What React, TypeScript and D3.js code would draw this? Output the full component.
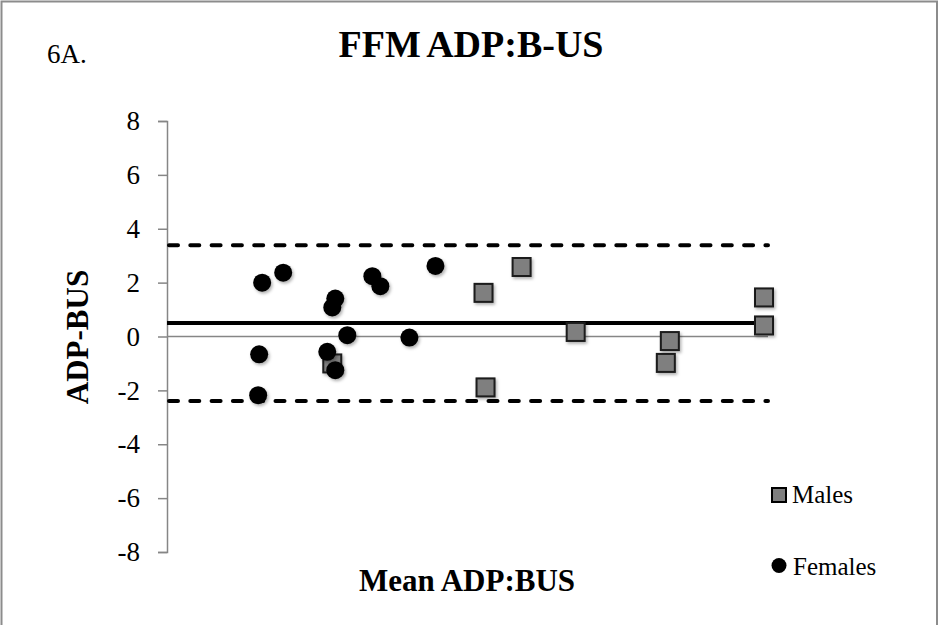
import React, { useEffect, useRef } from 'react';
import * as d3 from 'd3';

// Bland-Altman style plot, FFM ADP vs B-US
const femaleMean = [39.5, 41.6, 46.8, 46.5, 50.5, 51.3, 56.8, 48.0, 54.2, 39.2, 46.0, 46.8, 39.1];
const femaleDiff = [2.0, 2.37, 1.41, 1.08, 2.24, 1.87, 2.62, 0.05, -0.04, -0.66, -0.57, -1.25, -2.18];
const maleMean = [65.4, 61.6, 89.6, 89.6, 70.8, 80.2, 79.8, 61.8, 46.5];
const maleDiff = [2.58, 1.62, 1.45, 0.41, 0.17, -0.17, -0.98, -1.89, -1.0];
const meanBias = 0.5;
const upperLimit = 3.39;
const lowerLimit = -2.39;
const yTicks = [-8, -6, -4, -2, 0, 2, 4, 6, 8];

const W = 940;
const H = 625;
const serif = '"Liberation Serif", "Times New Roman", serif';

export default function App() {
    const ref = useRef<SVGSVGElement>(null);

    useEffect(() => {
        const svg = d3.select(ref.current);
        svg.selectAll('*').remove();

        const x = d3.scaleLinear().domain([30, 90]).range([167, 768]);
        const y = d3.scaleLinear().domain([-8, 8]).range([552, 121]);

        const defs = svg.append('defs');
        const f = defs.append('filter').attr('id', 'shadow').attr('x', '-50%').attr('y', '-50%').attr('width', '200%').attr('height', '200%');
        f.append('feDropShadow')
            .attr('dx', 1.5)
            .attr('dy', 2)
            .attr('stdDeviation', 1.8)
            .attr('flood-color', '#000')
            .attr('flood-opacity', 0.3);

        svg.append('rect').attr('width', W).attr('height', H).attr('fill', '#fff');
        // outer frame
        svg.append('rect')
            .attr('x', 1.5)
            .attr('y', 1.5)
            .attr('width', 935.5)
            .attr('height', 660)
            .attr('fill', 'none')
            .attr('stroke', '#8c8c8c')
            .attr('stroke-width', 2);

        // title
        svg.append('text')
            .attr('x', 471)
            .attr('y', 57)
            .attr('text-anchor', 'middle')
            .style('font-family', serif)
            .attr('font-weight', 'bold')
            .attr('font-size', 38)
            .attr('word-spacing', -2)
            .text('FFM ADP:B-US');
        svg.append('text')
            .attr('x', 47)
            .attr('y', 63)
            .style('font-family', serif)
            .attr('font-size', 27)
            .text('6A.');

        // y axis
        const yAxis = d3.axisLeft(y).tickValues(yTicks).tickSize(9).tickPadding(18).tickFormat(d3.format('d'));
        const gY = svg.append('g').attr('transform', 'translate(167,0)').call(yAxis);
        gY.select('.domain').attr('stroke', '#868686').attr('stroke-width', 1.5);
        gY.selectAll('.tick line').attr('stroke', '#868686').attr('stroke-width', 1.5);
        gY.selectAll('.tick text')
            .style('font-family', serif)
            .attr('font-size', 27)
            .attr('fill', '#000')
            .text((d: any) => (d < 0 ? '-' + Math.abs(d) : String(d)));

        // zero line (x axis)
        svg.append('line')
            .attr('x1', x(30))
            .attr('x2', x(90))
            .attr('y1', y(0))
            .attr('y2', y(0))
            .attr('stroke', '#868686')
            .attr('stroke-width', 1.5);

        // bias and limits
        svg.append('line')
            .attr('x1', x(30))
            .attr('x2', x(90))
            .attr('y1', y(meanBias))
            .attr('y2', y(meanBias))
            .attr('stroke', '#000')
            .attr('stroke-width', 4);
        [upperLimit, lowerLimit].forEach((v) => {
            svg.append('line')
                .attr('x1', x(30) + 2)
                .attr('x2', x(90))
                .attr('y1', y(v))
                .attr('y2', y(v))
                .attr('stroke', '#000')
                .attr('stroke-width', 4)
                .attr('stroke-linecap', 'round')
                .attr('stroke-dasharray', '9 12.3');
        });

        // males
        const sq = 18;
        svg.append('g')
            .selectAll('rect')
            .data(d3.range(maleMean.length))
            .enter()
            .append('rect')
            .attr('x', (i) => x(maleMean[i]) - sq / 2)
            .attr('y', (i) => y(maleDiff[i]) - sq / 2)
            .attr('width', sq)
            .attr('height', sq)
            .attr('fill', '#7f7f7f')
            .attr('stroke', '#1a1a1a')
            .attr('stroke-width', 2)
            .attr('filter', 'url(#shadow)');

        // females
        svg.append('g')
            .selectAll('circle')
            .data(d3.range(femaleMean.length))
            .enter()
            .append('circle')
            .attr('cx', (i) => x(femaleMean[i]))
            .attr('cy', (i) => y(femaleDiff[i]))
            .attr('r', 9)
            .attr('fill', '#000')
            .attr('filter', 'url(#shadow)');

        // axis titles
        svg.append('text')
            .attr('transform', 'translate(88,337) rotate(-90)')
            .attr('text-anchor', 'middle')
            .style('font-family', serif)
            .attr('font-weight', 'bold')
            .attr('font-size', 31)
            .text('ADP-BUS');
        svg.append('text')
            .attr('x', 467)
            .attr('y', 591)
            .attr('text-anchor', 'middle')
            .style('font-family', serif)
            .attr('font-weight', 'bold')
            .attr('font-size', 31)
            .text('Mean ADP:BUS');

        // legend
        const lg = svg.append('g');
        lg.append('rect')
            .attr('x', 772)
            .attr('y', 488)
            .attr('width', 14)
            .attr('height', 14)
            .attr('fill', '#7f7f7f')
            .attr('stroke', '#000')
            .attr('stroke-width', 2);
        lg.append('text')
            .attr('x', 792)
            .attr('y', 503)
            .style('font-family', serif)
            .attr('font-size', 25)
            .text('Males');
        lg.append('circle').attr('cx', 779).attr('cy', 565.5).attr('r', 7.5).attr('fill', '#000');
        lg.append('text')
            .attr('x', 793)
            .attr('y', 575)
            .style('font-family', serif)
            .attr('font-size', 25)
            .text('Females');
    }, []);

    return (
        <svg
            ref={ref}
            width={W}
            height={H}
            style={{ position: 'absolute', left: 0, top: 0, display: 'block' }}
        />
    );
}
